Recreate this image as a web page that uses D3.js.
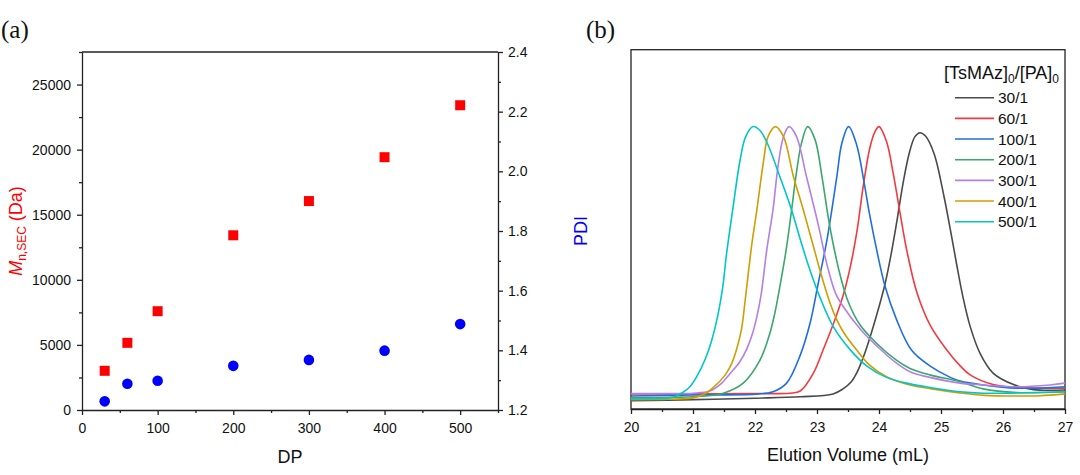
<!DOCTYPE html>
<html><head><meta charset="utf-8">
<script src="https://cdn.jsdelivr.net/npm/d3@7"></script>
<style>body{margin:0;background:#fff}svg{display:block}text{font-family:"Liberation Sans",Arial,sans-serif}</style>
</head><body><svg id="c" width="1080" height="475"></svg>
<script>
// ---------- Panel (a) data ----------
const dp = [30, 60, 100, 200, 300, 400, 500];
const mnSEC = [3010, 5160, 7590, 13420, 16050, 19420, 23410];
const pdi = [1.229, 1.288, 1.298, 1.348, 1.368, 1.399, 1.488];
const dpTicks = [0, 100, 200, 300, 400, 500];
const dpMinor = [50, 150, 250, 350, 450, 550];
const mnTicks = [0, 5000, 10000, 15000, 20000, 25000];
const mnMinor = [2500, 7500, 12500, 17500, 22500, 27500];
const pdiTicks = [1.2, 1.4, 1.6, 1.8, 2.0, 2.2, 2.4];
const pdiMinor = [1.3, 1.5, 1.7, 1.9, 2.1, 2.3];

// ---------- Panel (b) data (elution volume mL, signal a.u.) ----------
const volTicks = [20, 21, 22, 23, 24, 25, 26, 27];
const volMinor = [20.5, 21.5, 22.5, 23.5, 24.5, 25.5, 26.5];
const ratioLabels = ["30/1", "60/1", "100/1", "200/1", "300/1", "400/1", "500/1"];
const trace30 = [[20.0,2.3],[21.0,2.6],[22.0,3.0],[22.73,3.4],[23.26,4.2],[23.42,5.6],[23.55,7.5],[23.64,10.0],[23.72,13.2],[23.80,17.0],[23.96,26.0],[24.10,35],[24.20,43.5],[24.30,53.5],[24.40,64],[24.50,72],[24.58,75.8],[24.66,76.9],[24.75,76],[24.89,71],[25.05,59],[25.15,50],[25.25,40.5],[25.35,31.5],[25.47,23],[25.63,15.5],[25.84,10],[26.17,6.8],[26.49,5.4],[27.0,5.3]];
const trace60 = [[20.0,4.2],[21.0,4.2],[22.0,4.3],[22.56,4.4],[22.73,5.0],[22.94,9.9],[23.10,16.5],[23.26,23.5],[23.42,31.5],[23.53,39],[23.64,49],[23.75,62.5],[23.85,72.5],[23.93,77],[24.00,78.6],[24.12,74.5],[24.23,65.5],[24.34,54.5],[24.45,44],[24.61,32.5],[24.82,23.5],[25.09,16.5],[25.31,12],[25.47,9.5],[25.84,6.8],[26.22,6.0],[27.0,5.8]];
const trace100 = [[20.0,3.6],[21.0,3.9],[22.0,4.1],[22.29,4.8],[22.51,7.2],[22.73,15.0],[22.89,24.0],[23.02,35.0],[23.16,47.0],[23.32,64.7],[23.40,73.9],[23.51,78.6],[23.64,73.5],[23.75,64],[23.85,54],[23.96,44.5],[24.10,34],[24.28,25.0],[24.52,16.5],[24.82,12.0],[25.15,8.8],[25.31,7.8],[25.68,6.7],[26.22,5.8],[27.0,6.2]];
const trace200 = [[20.0,3.1],[20.8,3.3],[21.2,3.6],[21.49,4.4],[21.81,7.2],[22.08,13.6],[22.24,21.1],[22.33,27.5],[22.40,34],[22.50,44],[22.58,54],[22.67,66],[22.75,74],[22.85,78.6],[22.97,74.9],[23.08,64.7],[23.18,53.5],[23.26,46],[23.37,37.5],[23.50,30],[23.69,23.5],[23.96,18.3],[24.28,13.6],[24.50,11.3],[24.82,9.5],[25.31,7.6],[25.68,5.6],[26.22,4.6],[27.0,4.8]];
const trace300 = [[20.0,4.3],[20.6,4.3],[21.0,4.4],[21.27,5.0],[21.45,7],[21.6,9.9],[21.75,13],[21.87,16.8],[21.96,21],[22.03,25.7],[22.10,32],[22.19,44.3],[22.29,55.4],[22.37,67.4],[22.46,75.8],[22.55,78.6],[22.67,75.8],[22.83,64.7],[22.99,53.5],[23.05,49],[23.13,42.4],[23.21,37],[23.30,32.2],[23.43,28.3],[23.71,22.0],[23.98,17.3],[24.25,13.2],[24.52,10.2],[24.82,8.8],[25.31,7.2],[25.68,6.7],[26.22,6.2],[26.76,6.7],[27.0,7.2]];
const trace400 = [[20.0,2.6],[20.6,2.7],[21.0,3.1],[21.2,4.3],[21.33,6.0],[21.52,9.5],[21.62,12.5],[21.70,16.4],[21.78,22],[21.84,30],[21.90,39],[21.95,46],[22.03,55.4],[22.14,69.3],[22.21,75.8],[22.33,78.6],[22.46,75.8],[22.62,64.7],[22.78,55.4],[22.89,48.5],[22.97,43.5],[23.05,38.5],[23.21,29.5],[23.32,24.8],[23.43,21.3],[23.64,16.4],[23.85,12.2],[24.12,9.0],[24.50,6.7],[24.85,5.6],[25.3,4.5],[25.7,3.8],[26.2,3.6],[26.6,3.7],[27.0,4.2]];
const trace500 = [[20.0,2.9],[20.4,2.9],[20.68,3.3],[20.85,4.8],[20.95,6.2],[21.06,9.0],[21.2,14],[21.3,19],[21.40,26],[21.48,34],[21.54,43],[21.64,55.4],[21.76,69.3],[21.85,75.8],[21.97,78.6],[22.08,77.5],[22.20,73.9],[22.40,64.7],[22.59,55.4],[22.74,46.6],[22.89,38.5],[23.05,31.0],[23.26,23.0],[23.53,16.6],[23.80,12.0],[24.12,8.8],[24.50,7.0],[24.82,6.0],[25.31,4.8],[25.68,4.4],[26.0,4.4],[26.5,4.6],[27.0,4.8]];
const traces = [trace30, trace60, trace100, trace200, trace300, trace400, trace500];
const traceColors = ["#4a4a4a", "#f23a3f", "#1f6fe0", "#3aa76b", "#b47fe6", "#d09e00", "#00c6c8"];

const svg = d3.select("#c");
const AX = "#222";

function styleAxis(g, fs) {
  g.select(".domain").attr("stroke", AX).attr("stroke-width", 1.3);
  g.selectAll(".tick line").attr("stroke", AX).attr("stroke-width", 1.3);
  g.selectAll("text").attr("font-size", fs || 14).attr("fill", "#111");
}
function minorAxis(g) { g.select(".domain").remove(); g.selectAll(".tick line").attr("stroke", AX).attr("stroke-width", 1.3); }

// ---------- Panel (a) ----------
const xA = d3.scaleLinear().domain([0, 550]).range([82, 498]);
const yL = d3.scaleLinear().domain([0, 27500]).range([410, 52]);
const yR = d3.scaleLinear().domain([1.2, 2.4]).range([410, 52]);

svg.append("line").attr("x1", 82).attr("x2", 498).attr("y1", 52).attr("y2", 52)
  .attr("stroke", AX).attr("stroke-width", 1.3);

svg.append("g").attr("transform", "translate(0,410)")
  .call(d3.axisBottom(xA).tickValues(dpTicks).tickSize(5).tickSizeOuter(0).tickPadding(8).tickFormat(d3.format("d")))
  .call(styleAxis);
svg.append("g").attr("transform", "translate(0,410)")
  .call(d3.axisBottom(xA).tickValues(dpMinor).tickSize(3).tickFormat("")).call(minorAxis);

svg.append("g").attr("transform", "translate(82,0)")
  .call(d3.axisLeft(yL).tickValues(mnTicks).tickSize(5).tickSizeOuter(0).tickPadding(6).tickFormat(d3.format("d")))
  .call(styleAxis);
svg.append("g").attr("transform", "translate(82,0)")
  .call(d3.axisLeft(yL).tickValues(mnMinor).tickSize(3).tickFormat("")).call(minorAxis);

svg.append("g").attr("transform", "translate(498,0)")
  .call(d3.axisRight(yR).tickValues(pdiTicks).tickSize(5).tickSizeOuter(0).tickPadding(5).tickFormat(d3.format(".1f")))
  .call(styleAxis);
svg.append("g").attr("transform", "translate(498,0)")
  .call(d3.axisRight(yR).tickValues(pdiMinor).tickSize(3).tickFormat("")).call(minorAxis);

svg.append("g").selectAll("rect").data(dp).join("rect")
  .attr("x", (d) => xA(d) - 5).attr("y", (d, i) => yL(mnSEC[i]) - 5)
  .attr("width", 10).attr("height", 10).attr("fill", "#ff0000");
svg.append("g").selectAll("circle").data(dp).join("circle")
  .attr("cx", (d) => xA(d)).attr("cy", (d, i) => yR(pdi[i])).attr("r", 5.3).attr("fill", "#0000ff");

svg.append("text").attr("x", 290).attr("y", 463).attr("text-anchor", "middle")
  .attr("font-size", 18).attr("fill", "#111").text("DP");

const lt = svg.append("text").attr("transform", "translate(22,231) rotate(-90)")
  .attr("text-anchor", "middle").attr("font-size", 18).attr("fill", "#ff0000");
lt.append("tspan").attr("font-style", "italic").text("M");
lt.append("tspan").attr("font-size", 12).attr("dy", 4).text("n,SEC");
lt.append("tspan").attr("dy", -4).text(" (Da)");

svg.append("text").attr("transform", "translate(587,231) rotate(-90)")
  .attr("text-anchor", "middle").attr("font-size", 18).attr("fill", "#0000ff").text("PDI");

svg.append("text").attr("x", 1).attr("y", 38).attr("font-size", 25)
  .style("font-family", "'Liberation Serif', 'Times New Roman', serif").attr("fill", "#111").text("(a)");

// ---------- Panel (b) ----------
const xB = d3.scaleLinear().domain([20, 27]).range([631, 1065]);
const yS = d3.scaleLinear().domain([0, 100]).range([409, 49.7]);

svg.append("rect").attr("x", 631).attr("y", 49.7).attr("width", 434).attr("height", 359.3)
  .attr("fill", "none").attr("stroke", AX).attr("stroke-width", 1.3);

svg.append("g").attr("transform", "translate(0,409)")
  .call(d3.axisBottom(xB).tickValues(volTicks).tickSize(5).tickSizeOuter(0).tickPadding(8).tickFormat(d3.format("d")))
  .call(styleAxis);
svg.append("g").attr("transform", "translate(0,409)")
  .call(d3.axisBottom(xB).tickValues(volMinor).tickSize(3).tickFormat("")).call(minorAxis);

const line = d3.line().x((d) => xB(d[0])).y((d) => yS(d[1])).curve(d3.curveCatmullRom.alpha(0.5));
svg.append("g").selectAll("path").data(traces).join("path")
  .attr("d", line).attr("fill", "none").attr("stroke", (d, i) => traceColors[i]).attr("stroke-width", 1.6);

svg.append("text").attr("x", 848).attr("y", 461).attr("text-anchor", "middle")
  .attr("font-size", 18).attr("fill", "#111").text("Elution Volume (mL)");

svg.append("text").attr("x", 586).attr("y", 38).attr("font-size", 25)
  .style("font-family", "'Liberation Serif', 'Times New Roman', serif").attr("fill", "#111").text("(b)");

// legend
const lg = svg.append("text").attr("x", 1059).attr("y", 79).attr("text-anchor", "end")
  .attr("font-size", 18).attr("fill", "#111");
lg.append("tspan").text("[TsMAz]");
lg.append("tspan").attr("font-size", 12).attr("dy", 4).text("0");
lg.append("tspan").attr("dy", -4).text("/[PA]");
lg.append("tspan").attr("font-size", 12).attr("dy", 4).text("0");

const leg = svg.append("g").selectAll("g").data(ratioLabels).join("g")
  .attr("transform", (d, i) => `translate(0,${97.7 + i * 20.67})`);
leg.append("line").attr("x1", 955).attr("x2", 994).attr("y1", 0).attr("y2", 0)
  .attr("stroke", (d, i) => traceColors[i]).attr("stroke-width", 1.6);
leg.append("text").attr("x", 998).attr("y", 5.5).attr("font-size", 15.5).attr("fill", "#111").text((d) => d);
</script></body></html>
